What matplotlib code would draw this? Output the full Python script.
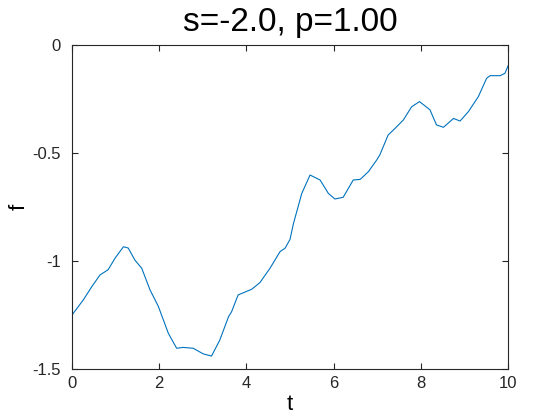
import matplotlib
matplotlib.use("Agg")
import matplotlib.pyplot as plt

t = [0.0, 0.26, 0.45, 0.64, 0.83, 0.99, 1.18, 1.29, 1.44, 1.6, 1.79, 1.98, 2.21, 2.4,
     2.55, 2.78, 3.01, 3.2, 3.39, 3.59, 3.66, 3.81, 3.93, 4.12, 4.31, 4.54, 4.77, 4.89,
     5.0, 5.08, 5.27, 5.46, 5.69, 5.88, 6.03, 6.22, 6.45, 6.61, 6.8, 6.99, 7.06, 7.25,
     7.41, 7.6, 7.79, 7.97, 8.21, 8.36, 8.52, 8.75, 8.9, 9.09, 9.32, 9.51, 9.59, 9.82,
     9.93, 10.0]
f = [-1.25, -1.18, -1.12, -1.065, -1.04, -0.986, -0.934, -0.94, -0.995, -1.034, -1.134,
     -1.21, -1.335, -1.404, -1.40, -1.404, -1.43, -1.44, -1.366, -1.258, -1.235, -1.157,
     -1.147, -1.131, -1.10, -1.034, -0.957, -0.94, -0.90, -0.826, -0.687, -0.602, -0.625,
     -0.687, -0.713, -0.705, -0.625, -0.622, -0.586, -0.532, -0.509, -0.417, -0.386,
     -0.347, -0.286, -0.262, -0.30, -0.37, -0.381, -0.34, -0.352, -0.309, -0.239, -0.154,
     -0.142, -0.142, -0.131, -0.097]

xticks = [0, 2, 4, 6, 8, 10]
yticks = [-1.5, -1, -0.5, 0]
yticklabels = ["-1.5", "-1", "-0.5", "0"]

plt.rcParams['font.family'] = ['Liberation Sans', 'DejaVu Sans']

fig = plt.figure(figsize=(5.6, 4.2), dpi=100)
ax = fig.add_axes([72/560, 1-369/420, (508-72)/560, (369-45)/420])
ax.plot(t, f, color='#0072BD', lw=0.8)
ax.set_xlim(0, 10)
ax.set_ylim(-1.5, 0)
ax.set_xticks(xticks)
ax.set_xticklabels([str(v) for v in xticks])
ax.set_yticks(yticks)
ax.set_yticklabels(yticklabels)
ax.tick_params(direction='in', top=True, right=True, length=4, width=0.8,
               labelsize=12, pad=5, colors='#262626')
ax.tick_params(axis='y', pad=8)
for s in ax.spines.values():
    s.set_linewidth(0.8)
    s.set_color('#262626')
ax.set_title("s=-2.0, p=1.00", fontsize=24, pad=10)
ax.set_xlabel("t", fontsize=16, labelpad=2)
ax.set_ylabel("f", fontsize=16, labelpad=2)
fig.savefig("out.png", dpi=100)
